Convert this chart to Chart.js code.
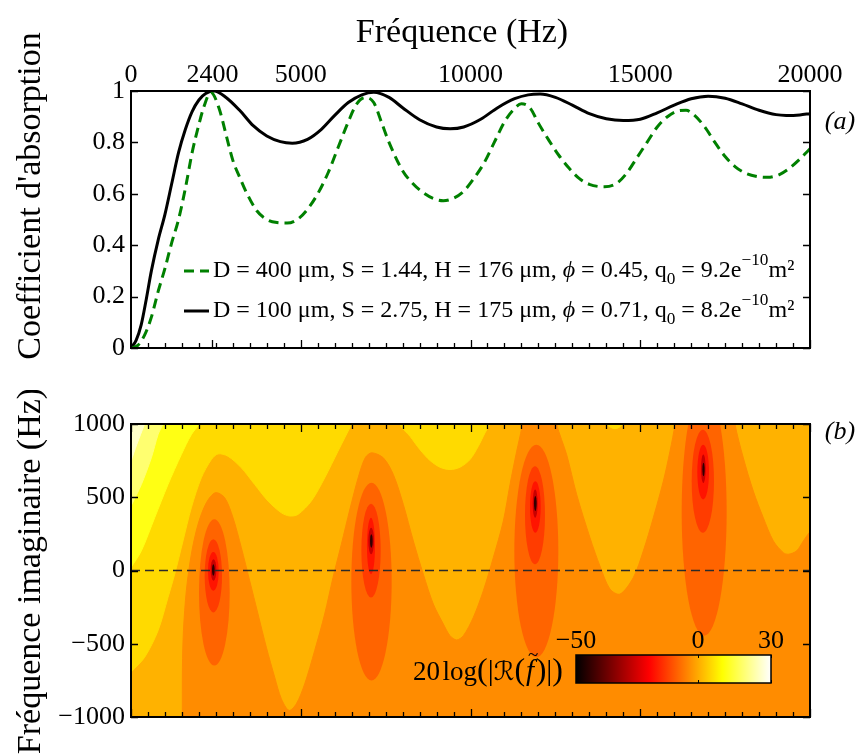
<!DOCTYPE html>
<html>
<head>
<meta charset="utf-8">
<title>Coefficient d'absorption</title>
<script src="https://cdn.jsdelivr.net/npm/chart.js@4.4.1/dist/chart.umd.min.js"></script>
<style>
  html, body { margin:0; padding:0; background:#fff; }
  #wrap { position:relative; width:859px; height:755px; overflow:hidden; background:#fff; }
  canvas { position:absolute; left:0; }
  #top { top:0; }
  #bottom { top:390px; }
</style>
</head>
<body>
<div id="wrap">
  <canvas id="top" width="859" height="390"></canvas>
  <canvas id="bottom" width="859" height="365"></canvas>
</div>
<script>
// ================= DATA =================
// Panel (a): absorption coefficient vs frequency
const freqAxisTicks = [0, 2400, 5000, 10000, 15000, 20000];
const absorptionTicks = [0, 0.2, 0.4, 0.6, 0.8, 1];

const freqBlack = [0,150,300,450,600,800,1000,1200,1400,1600,1800,2000,2200,2450,2800,3200,3600,4000,4400,4750,
  5200,5600,6000,6400,6800,7150,7600,8000,8500,9000,9400,9800,10300,10800,11300,11700,12050,12500,13000,13500,
  14000,14500,15000,15500,16000,16500,17000,17500,18000,18500,19000,19300,19700,20000];
const alphaBlack = [0,0.03,0.09,0.19,0.30,0.42,0.52,0.64,0.76,0.85,0.92,0.965,0.99,1.0,0.975,0.925,0.865,0.825,0.803,0.797,
  0.812,0.85,0.905,0.955,0.985,0.995,0.975,0.935,0.888,0.86,0.853,0.86,0.89,0.935,0.97,0.985,0.988,0.975,0.945,0.912,
  0.892,0.885,0.89,0.915,0.945,0.97,0.98,0.972,0.95,0.925,0.908,0.905,0.907,0.912];

const freqGreen = [0,200,400,600,800,1000,1200,1400,1600,1800,2000,2150,2350,2600,2800,3000,3200,3400,3700,4000,
  4300,4600,4900,5200,5500,5800,6100,6400,6650,6900,7150,7400,7600,8000,8300,8600,8900,9200,9500,9800,
  10100,10400,10700,11000,11250,11500,11750,12000,12300,12600,12900,13200,13500,13950,14300,14600,14900,15200,15500,15800,
  16100,16350,16600,16900,17200,17500,17800,18100,18450,18750,19100,19400,19700,20000];
const alphaGreen = [0,0.01,0.05,0.12,0.22,0.31,0.41,0.50,0.62,0.76,0.87,0.94,0.995,0.93,0.83,0.73,0.665,0.605,0.535,0.50,
  0.488,0.486,0.50,0.54,0.60,0.68,0.78,0.88,0.95,0.975,0.955,0.87,0.80,0.69,0.64,0.605,0.582,0.573,0.583,0.61,
  0.66,0.72,0.80,0.88,0.925,0.95,0.935,0.875,0.81,0.75,0.70,0.66,0.637,0.627,0.64,0.68,0.74,0.80,0.86,0.90,
  0.922,0.925,0.905,0.86,0.80,0.745,0.705,0.68,0.667,0.664,0.675,0.70,0.735,0.775];

const legendGreen = 'D = 400 μm, S = 1.44, H = 176 μm, ϕ = 0.45, q_{0} = 9.2e^{−10}m²';
const legendBlack = 'D = 100 μm, S = 2.75, H = 175 μm, ϕ = 0.71, q_{0} = 8.2e^{−10}m²';

// Panel (b): contour map of 20log(|R(f)|) in the complex frequency plane
const imagFreqTicks = [-1000, -500, 0, 500, 1000];
const imagFreqLabels = ['−1000', '−500', '0', '500', '1000'];
const freqRange = [0, 20000];
const imagRange = [-1000, 1000];

const bandCream = [[470,1300],[-300,1300],[-300,545],[0,746],[170,860],[400,1000]];
const bandPaleYellow = [[1000,1300],[-300,1300],[-300,296],[0,440],[305,587],[599,769],[796,927],[943,1000]];
const bandYellow = [[2100,1300],[-400,1300],[-400,-130],[0,20],[305,134],[697,360],[1090,587],[1483,791],[1777,927],[2023,1000]];
const bandGold1 = [[6600,1300],[-400,1300],[-400,-795],[0,-694],[403,-592],[796,-411],[1090,-184],[1287,-25],[1532,202],
  [1777,428],[2072,633],[2367,757],[2563,796],[2857,780],[3250,701],[3643,587],[4036,474],[4428,394],[4674,372],
  [4919,383],[5312,474],[5705,632],[6097,814],[6490,995]];
const bandGold2 = [[10650,1300],[7850,1300],[7923,1000],[8218,916],[8512,825],[8807,751],[9101,705],[9396,689],
  [9690,705],[9985,757],[10230,848],[10427,939],[10574,1000]];
const bandGold3 = [[14560,1100],[13950,1100],[14011,1000],[14150,975],[14255,968],[14360,975],[14500,1000]];
const bandOrange = [[20300,-1300],[1512,-1300],[1512,-1000],[1515,-660],[1545,-411],[1630,-138],[1777,111],[1974,315],
  [2219,462],[2484,531],[2759,497],[3005,360],[3250,156],[3496,-70],[3741,-297],[3987,-524],[4232,-728],[4428,-875],
  [4654,-955],[4870,-910],[5116,-774],[5410,-547],[5705,-297],[5950,-48],[6196,179],[6450,420],[6700,640],[6900,770],
  [7090,803],[7432,769],[7727,655],[8021,451],[8316,202],[8610,-25],[8905,-229],[9200,-365],[9396,-445],[9592,-474],
  [9789,-445],[10083,-320],[10378,-138],[10672,88],[10967,338],[11164,587],[11360,814],[11507,973],[11600,1150],
  [12480,1150],[12538,1000],[12832,791],[13127,519],[13519,224],[13814,30],[14109,-127],[14404,-161],[14796,-48],
  [15091,134],[15385,360],[15680,610],[15876,814],[16024,1000],[16080,1150],[17740,1150],[17791,1000],[18036,769],
  [18330,542],[18625,360],[18920,202],[19214,122],[19362,111],[19607,134],[19804,202],[20000,265],[20300,340]];

// closed contours around each resonance: [f left, f right, fi bottom, fi top]
const resonance1 = [[2003,2907,-649,349],[2170,2681,-286,213],[2268,2583,-138,127],[2347,2514,-70,77],[2386,2465,-36,43]];
const resonance2 = [[6490,7678,-751,599],[6786,7354,-184,456],[6950,7187,-25,360],[6990,7157,111,292],[7040,7118,156,247]];
const resonance3 = [[11291,12587,-592,859],[11605,12194,43,712],[11752,12066,258,610],[11831,11978,360,553],[11870,11948,406,508]];
const resonance4 = [[16220,17545,-445,1245],[16515,17172,258,961],[16681,17025,485,859],[16789,16927,598,791],[16829,16897,644,735]];

const colorbarRange = [-50, 30];
const colorbarTicks = [-50, 0, 30];
const colorbarTickLabels = ['−50', '0', '30'];
const hotStops = [[-50,'#000000'],[-20,'#ff0000'],[10,'#ffff00'],[30,'#ffffff']];

// ================= STYLE =================
const SERIF = "'Liberation Serif', 'Times New Roman', 'DejaVu Serif', serif";
const MATHF = "'DejaVu Serif', 'DejaVu Sans', 'Liberation Serif', serif";
Chart.defaults.font.family = SERIF;
Chart.defaults.color = '#000';

const C = {
  cream:'#FFFFC8', pale:'#FFFF70', yellow:'#FFFF14', gold:'#FFDA00', light:'#FFB200', orange:'#FF8C00',
};
const ringColors = ['#FF6400', '#FF3C00', '#FF1400', '#C80000', '#300000'];

const freqMinorTicks = Array.from({length: 41}, (_, i) => i * 500);
const freqMajorBottom = [0, 5000, 10000, 15000, 20000];

// ================= HELPERS =================
function pxX(chart, v) { return chart.scales.x.getPixelForValue(v); }
function pxY(chart, v) { return chart.scales.y.getPixelForValue(v); }

function drawBox(chart) {
  const {ctx, chartArea: a} = chart;
  ctx.save();
  ctx.strokeStyle = '#000'; ctx.lineWidth = 2;
  ctx.strokeRect(a.left, a.top, a.right - a.left, a.bottom - a.top);
  ctx.restore();
}
function drawTicks(chart, specs) {
  const {ctx, chartArea: a} = chart;
  ctx.save();
  ctx.strokeStyle = '#000'; ctx.lineWidth = 1.3;
  ctx.beginPath();
  for (const t of specs) {
    for (const v of t.values) {
      if (t.edge === 'bottom' || t.edge === 'top') {
        const x = Math.round(pxX(chart, v)) + 0.5;
        const y0 = t.edge === 'bottom' ? a.bottom : a.top;
        const d = t.edge === 'bottom' ? -1 : 1;
        ctx.moveTo(x, y0); ctx.lineTo(x, y0 + d * t.len);
      } else {
        const y = Math.round(pxY(chart, v)) + 0.5;
        const x0 = t.edge === 'left' ? a.left : a.right;
        const d = t.edge === 'left' ? 1 : -1;
        ctx.moveTo(x0, y); ctx.lineTo(x0 + d * t.len, y);
      }
    }
  }
  ctx.stroke();
  ctx.restore();
}
function drawRich(ctx, str, x, y, size) {
  const parts = str.split(/(_\{[^}]*\}|\^\{[^}]*\}|ϕ)/);
  let cx = x;
  for (const p of parts) {
    if (!p) continue;
    let txt = p, fs = size, dy = 0, style = '';
    if (p.startsWith('_{')) { txt = p.slice(2, -1); fs = size * 0.72; dy = size * 0.36; }
    else if (p.startsWith('^{')) { txt = p.slice(2, -1); fs = size * 0.72; dy = -size * 0.42; }
    else if (p === 'ϕ') { style = 'italic '; }
    ctx.font = `${style}${fs}px ${SERIF}`;
    ctx.fillText(txt, cx, y + dy);
    cx += ctx.measureText(txt).width;
  }
  return cx;
}
function rotatedText(ctx, txt, x, y, font) {
  ctx.save();
  ctx.translate(x, y); ctx.rotate(-Math.PI / 2);
  ctx.font = font; ctx.textAlign = 'center'; ctx.textBaseline = 'middle';
  ctx.fillText(txt, 0, 0);
  ctx.restore();
}

// ================= PANEL (a) =================
const topDecor = {
  id: 'topDecor',
  afterDraw(chart) {
    const ctx = chart.ctx;
    drawBox(chart);
    drawTicks(chart, [
      {edge:'bottom', values: freqMinorTicks, len: 5},
      {edge:'bottom', values: freqAxisTicks, len: 8},
      {edge:'left', values: absorptionTicks, len: 7},
      {edge:'right', values: absorptionTicks, len: 7},
    ]);
    ctx.save();
    ctx.fillStyle = '#000';
    ctx.font = `34px ${SERIF}`; ctx.textAlign = 'center'; ctx.textBaseline = 'middle';
    ctx.fillText('Fréquence (Hz)', 462, 33);
    rotatedText(ctx, "Coefficient d'absorption", 31, 196, `34px ${SERIF}`);
    ctx.font = `italic 26px ${SERIF}`; ctx.textAlign = 'center';
    ctx.fillText('(a)', 840, 122);
    // legend
    const rows = [271, 311];
    chart.data.datasets.forEach((ds, i) => {
      const y = rows[i];
      ctx.save();
      ctx.strokeStyle = ds.borderColor; ctx.lineWidth = ds.borderWidth;
      ctx.setLineDash(ds.borderDash || []);
      ctx.beginPath(); ctx.moveTo(184, y); ctx.lineTo(209, y); ctx.stroke();
      ctx.restore();
      ctx.textAlign = 'left'; ctx.textBaseline = 'middle'; ctx.fillStyle = '#000';
      drawRich(ctx, ds.label, 213, y, 24);
    });
    ctx.restore();
  }
};

new Chart(document.getElementById('top'), {
  type: 'scatter',
  data: {
    datasets: [
      { label: legendGreen, data: freqGreen.map((f, i) => ({x: f, y: alphaGreen[i]})),
        showLine: true, borderColor: '#008000', borderWidth: 3, borderDash: [10, 6],
        pointRadius: 0, cubicInterpolationMode: 'monotone', order: 0 },
      { label: legendBlack, data: freqBlack.map((f, i) => ({x: f, y: alphaBlack[i]})),
        showLine: true, borderColor: '#000000', borderWidth: 3,
        pointRadius: 0, cubicInterpolationMode: 'monotone', order: 1 },
    ]
  },
  options: {
    responsive: false, animation: false, devicePixelRatio: 1,
    layout: { padding: { left: 0, right: 49, top: 0, bottom: 42 } },
    plugins: { legend: { display: false }, tooltip: { enabled: false } },
    scales: {
      x: {
        type: 'linear', position: 'top', min: freqRange[0], max: freqRange[1],
        afterBuildTicks: s => { s.ticks = freqAxisTicks.map(v => ({value: v})); },
        afterFit: s => { s.height = 91; },
        grid: { display: false, drawTicks: false }, border: { display: false },
        ticks: { autoSkip: false, maxRotation: 0, padding: 0, font: { size: 26 }, color: '#000', callback: v => String(v) }
      },
      y: {
        min: 0, max: 1,
        afterBuildTicks: s => { s.ticks = absorptionTicks.map(v => ({value: v})); },
        afterFit: s => { s.width = 131; },
        grid: { display: false, drawTicks: false }, border: { display: false },
        ticks: { padding: 6, font: { size: 26 }, color: '#000', callback: v => String(v) }
      }
    }
  },
  plugins: [topDecor]
});

// ================= PANEL (b) =================
function band(points, color, order) {
  return {
    label: 'band', data: points.map(([x, y]) => ({x, y})),
    showLine: true, fill: 'shape', backgroundColor: color, borderColor: color, borderWidth: 1,
    pointRadius: 0, tension: 0.3, capBezierPoints: false, order
  };
}

const bottomDecor = {
  id: 'bottomDecor',
  beforeDatasetsDraw(chart) {
    const {ctx, chartArea: a} = chart;
    ctx.save(); ctx.fillStyle = C.light;
    ctx.fillRect(a.left, a.top, a.right - a.left, a.bottom - a.top);
    ctx.restore();
  },
  beforeDatasetDraw(chart, args) {
    if (chart.data.datasets[args.index].label !== 'zeroLine') return;
    const {ctx, chartArea: a} = chart;
    ctx.save();
    ctx.beginPath(); ctx.rect(a.left, a.top, a.right - a.left, a.bottom - a.top); ctx.clip();
    for (const res of [resonance1, resonance2, resonance3, resonance4]) {
      res.forEach(([fL, fR, iB, iT], k) => {
        const x1 = pxX(chart, fL), x2 = pxX(chart, fR);
        const y1 = pxY(chart, iT), y2 = pxY(chart, iB);
        ctx.fillStyle = ringColors[k];
        ctx.beginPath();
        ctx.ellipse((x1 + x2) / 2, (y1 + y2) / 2, (x2 - x1) / 2, (y2 - y1) / 2, 0, 0, Math.PI * 2);
        ctx.fill();
      });
    }
    ctx.restore();
  },
  afterDraw(chart) {
    const ctx = chart.ctx;
    drawBox(chart);
    drawTicks(chart, [
      {edge:'bottom', values: freqMinorTicks, len: 5},
      {edge:'bottom', values: freqMajorBottom, len: 8},
      {edge:'top', values: freqMinorTicks, len: 5},
      {edge:'top', values: freqMajorBottom, len: 8},
      {edge:'left', values: imagFreqTicks, len: 7},
      {edge:'right', values: imagFreqTicks, len: 7},
    ]);
    ctx.save();
    ctx.fillStyle = '#000';
    rotatedText(ctx, 'Fréquence imaginaire (Hz)', 31, 181, `34px ${SERIF}`);
    ctx.font = `italic 26px ${SERIF}`; ctx.textAlign = 'center'; ctx.textBaseline = 'middle';
    ctx.fillText('(b)', 840, 42);

    // colorbar
    const cbL = 576, cbR = 771, cbT = 265, cbB = 293;
    const cbX = v => cbL + (v - colorbarRange[0]) / (colorbarRange[1] - colorbarRange[0]) * (cbR - cbL);
    const g = ctx.createLinearGradient(cbL, 0, cbR, 0);
    hotStops.forEach(([v, c]) => g.addColorStop((v - colorbarRange[0]) / (colorbarRange[1] - colorbarRange[0]), c));
    ctx.fillStyle = g; ctx.fillRect(cbL, cbT, cbR - cbL, cbB - cbT);
    ctx.strokeStyle = '#000'; ctx.lineWidth = 1.5; ctx.strokeRect(cbL, cbT, cbR - cbL, cbB - cbT);
    ctx.lineWidth = 1;
    ctx.beginPath();
    colorbarTicks.forEach(v => {
      const x = Math.round(cbX(v)) + 0.5;
      ctx.moveTo(x, cbT); ctx.lineTo(x, cbT + 3);
      ctx.moveTo(x, cbB); ctx.lineTo(x, cbB - 3);
    });
    ctx.stroke();
    ctx.fillStyle = '#000';
    ctx.font = `26px ${SERIF}`; ctx.textAlign = 'center'; ctx.textBaseline = 'middle';
    colorbarTicks.forEach((v, i) => ctx.fillText(colorbarTickLabels[i], cbX(v), 251));

    // colorbar label: 20log(|R(f~)|)
    const segs = [
      {t: '20', f: `27px ${SERIF}`},
      {t: ' ', f: `10px ${SERIF}`},
      {t: 'log', f: `27px ${SERIF}`},
      {t: '(', f: `32px ${SERIF}`},
      {t: '|', f: `30px ${SERIF}`},
      {t: 'ℛ', f: `26px ${MATHF}`},
      {t: '(', f: `32px ${SERIF}`},
      {t: ' ', f: `4px ${SERIF}`},
      {t: 'f', f: `italic 29px ${SERIF}`, tilde: true},
      {t: ' ', f: `6px ${SERIF}`},
      {t: ')', f: `32px ${SERIF}`},
      {t: '|', f: `30px ${SERIF}`},
      {t: ')', f: `32px ${SERIF}`},
    ];
    ctx.textAlign = 'left'; ctx.textBaseline = 'alphabetic';
    let total = 0;
    segs.forEach(s => { ctx.font = s.f; s.w = ctx.measureText(s.t).width; total += s.w; });
    let x = 563 - total;
    const base = 290;
    segs.forEach(s => {
      ctx.font = s.f;
      ctx.fillText(s.t, x, base);
      if (s.tilde) {
        ctx.font = `19px ${SERIF}`; ctx.textAlign = 'center';
        ctx.fillText('~', x + s.w / 2 + 3, base - 19);
        ctx.textAlign = 'left';
      }
      x += s.w;
    });
    ctx.restore();
  }
};

new Chart(document.getElementById('bottom'), {
  type: 'scatter',
  data: {
    datasets: [
      { label: 'zeroLine', data: freqRange.map(f => ({x: f, y: 0})), showLine: true,
        borderColor: '#2a2a2a', borderWidth: 1.4, borderDash: [9, 5], pointRadius: 0, order: 0 },
      band(bandCream, C.cream, 6),
      band(bandPaleYellow, C.pale, 7),
      band(bandYellow, C.yellow, 8),
      band(bandGold1, C.gold, 9),
      band(bandGold2, C.gold, 9),
      band(bandGold3, C.gold, 9),
      band(bandOrange, C.orange, 10),
    ]
  },
  options: {
    responsive: false, animation: false, devicePixelRatio: 1,
    layout: { padding: { left: 0, right: 49, top: 34, bottom: 38 } },
    plugins: { legend: { display: false }, tooltip: { enabled: false } },
    scales: {
      x: { type: 'linear', display: false, min: freqRange[0], max: freqRange[1] },
      y: {
        min: imagRange[0], max: imagRange[1],
        afterBuildTicks: s => { s.ticks = imagFreqTicks.map(v => ({value: v})); },
        afterFit: s => { s.width = 131; },
        grid: { display: false, drawTicks: false }, border: { display: false },
        ticks: { padding: 6, font: { size: 26 }, color: '#000',
          callback: (v) => imagFreqLabels[imagFreqTicks.indexOf(v)] }
      }
    }
  },
  plugins: [bottomDecor]
});
</script>
</body>
</html>
